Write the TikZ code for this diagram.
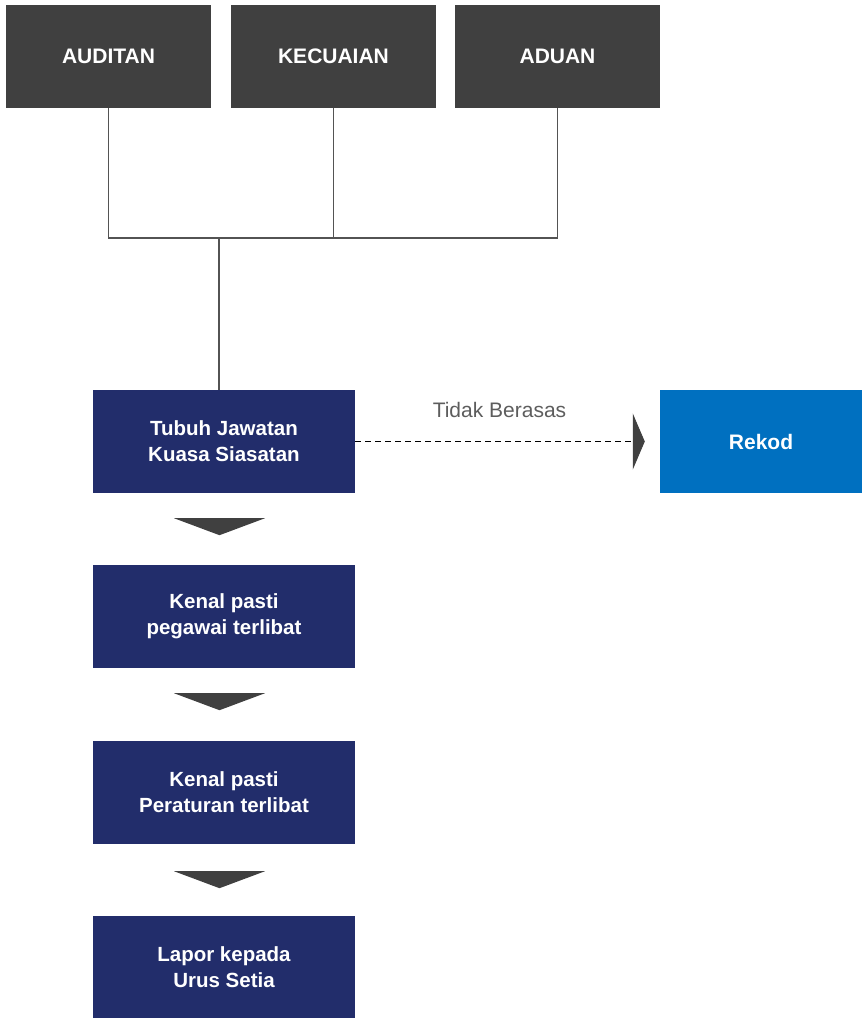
\documentclass[tikz,border=0pt]{standalone}
\usepackage{fontspec}
\setmainfont{Liberation Sans}
\usetikzlibrary{arrows.meta}
\definecolor{kelabu}{HTML}{404040}
\definecolor{biruTua}{HTML}{222D6B}
\definecolor{biru}{HTML}{0070C0}
\tikzstyle{sumber}=[rectangle,minimum width=205pt,minimum height=103pt,text centered,fill=kelabu,text=white,font=\fontsize{21}{25}\selectfont\bfseries]
\tikzstyle{proses}=[rectangle,minimum width=262pt,minimum height=103pt,align=center,fill=biruTua,text=white,font=\fontsize{20.5}{26}\selectfont\bfseries]
\tikzstyle{rekod}=[rectangle,minimum width=202pt,minimum height=103pt,text centered,fill=biru,text=white,font=\fontsize{21}{25}\selectfont\bfseries]
\tikzstyle{garis}=[draw=kelabu!90,line width=1.2pt]
\tikzstyle{segitiga}=[fill=kelabu]

\begin{document}
\begin{tikzpicture}[x=1pt,y=1pt,node distance=176pt]
            \useasboundingbox (0,0) rectangle (864,-1018);
            \node (auditan)[sumber] at (108.5,-56.5){AUDITAN};
            \node (kecuaian)[sumber] at (333.5,-56.5){KECUAIAN};
            \node (aduan)[sumber] at (557.5,-56.5){ADUAN};
            \node (tubuh)[proses] at (224,-441.5){Tubuh Jawatan\\Kuasa Siasatan};
            \node (rekod)[rekod] at (761,-441.5){Rekod};
            \node (pegawai)[proses,below of=tubuh,yshift=1pt]{Kenal pasti\\pegawai terlibat};
            \node (peraturan)[proses,below of=pegawai]{Kenal pasti\\Peraturan terlibat};
            \node (lapor)[proses,below of=peraturan,yshift=1pt]{Lapor kepada\\Urus Setia};
            \coordinate (sambung) at (219,-238);
            \draw [garis] (auditan.south) |- (sambung);
            \draw [garis] (aduan.south) |- (sambung);
            \draw [garis] (kecuaian.south) -- (kecuaian.south |- sambung);
            \draw [garis] (sambung) -- (sambung |- tubuh.north);
            \draw [line width=1pt,dash pattern=on 6pt off 4pt,shorten >=15pt,-{Triangle[width=56pt,length=12pt,fill=kelabu,color=kelabu]}] (tubuh.east) -- (rekod.west) node[midway,above,yshift=20pt,xshift=-8pt,text=kelabu!85,font=\fontsize{21}{25}\selectfont]{Tidak Berasas};
            \fill [segitiga] ([xshift=-50pt,yshift=-25pt]tubuh.south) -- ++(91pt,0) -- ++(-45.5pt,-17pt) -- cycle;
            \fill [segitiga] ([xshift=-50pt,yshift=-25pt]pegawai.south) -- ++(91pt,0) -- ++(-45.5pt,-17pt) -- cycle;
            \fill [segitiga] ([xshift=-50pt,yshift=-27pt]peraturan.south) -- ++(91pt,0) -- ++(-45.5pt,-17pt) -- cycle;
        \end{tikzpicture}
\end{document}
